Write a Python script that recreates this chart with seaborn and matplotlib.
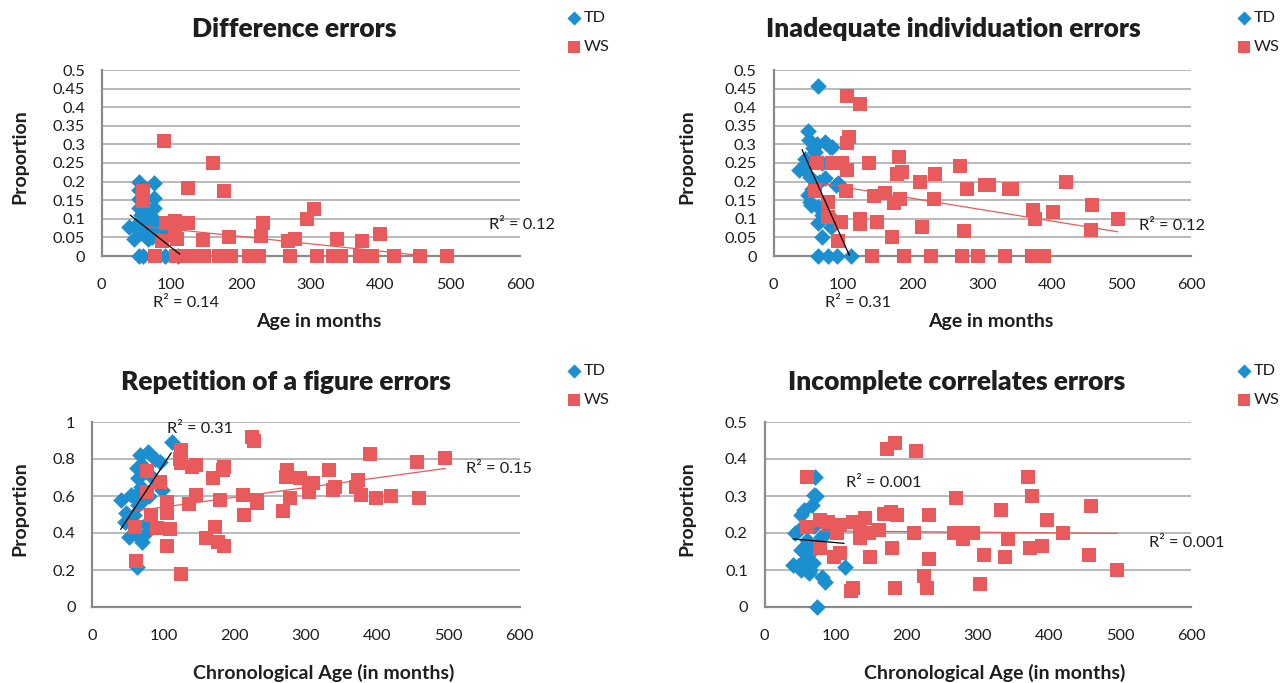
import matplotlib
matplotlib.use("Agg")
import matplotlib.pyplot as plt
import seaborn as sns

# ---------------- data ----------------
x_ticks = [0, 100, 200, 300, 400, 500, 600]
y_ticks_half = [0, 0.05, 0.1, 0.15, 0.2, 0.25, 0.3, 0.35, 0.4, 0.45, 0.5]
y_labels_half = ["0", "0.05", "0.1", "0.15", "0.2", "0.25", "0.3", "0.35", "0.4", "0.45", "0.5"]
y_ticks_one = [0, 0.2, 0.4, 0.6, 0.8, 1.0]
y_labels_one = ["0", "0.2", "0.4", "0.6", "0.8", "1"]
y_ticks_tenth = [0, 0.1, 0.2, 0.3, 0.4, 0.5]
y_labels_tenth = ["0", "0.1", "0.2", "0.3", "0.4", "0.5"]

titles = ["Difference errors", "Inadequate individuation errors",
          "Repetition of a figure errors", "Incomplete correlates errors"]
x_labels = ["Age in months", "Age in months",
            "Chronological Age (in months)", "Chronological Age (in months)"]
series_names = ["TD", "WS"]

# Panel 1: Difference errors
td1_age = [53, 53, 53, 53, 75, 75, 75, 75, 65, 60, 70, 58, 68, 40, 48, 62, 90, 46, 60, 66, 72, 53, 60, 91, 80, 57, 110]
td1_prop = [0.20, 0.178, 0.154, 0.13, 0.195, 0.157, 0.13, 0.10, 0.106, 0.115, 0.12, 0.095, 0.09, 0.078, 0.08, 0.07, 0.07, 0.045, 0.06, 0.045, 0.05, 0, 0, 0, 0.08, 0.11, 0]
ws1_age = [90, 160, 124, 176, 60, 60, 304, 294, 231, 229, 399, 183, 146, 268, 278, 338, 373, 105, 124, 93, 105, 108, 86,
           77, 106, 124, 136, 147, 168, 186, 211, 225, 270, 309, 332, 343, 370, 388, 419, 457, 496]
ws1_prop = [0.31, 0.25, 0.184, 0.176, 0.175, 0.147, 0.126, 0.10, 0.09, 0.055, 0.06, 0.052, 0.043, 0.04, 0.047, 0.047, 0.04, 0.094, 0.088, 0.088, 0.056, 0.045, 0.04,
            0, 0, 0, 0, 0, 0, 0, 0, 0, 0, 0, 0, 0, 0, 0, 0, 0, 0]
td1_trend_x = [41, 112]
td1_trend_y = [0.11, 0.005]
ws1_trend_x = [60, 496]
ws1_trend_y = [0.08, -0.006]
r2_1 = ["R² = 0.14", "R² = 0.12"]

# Panel 2: Inadequate individuation errors
td2_age = [64, 50, 51, 74, 81, 57, 84, 43, 36, 52, 74, 92, 90, 50, 52, 54, 64, 64, 83, 69, 64, 79, 91, 112,
           60, 70, 65, 55, 75, 85, 70, 62, 45]
td2_prop = [0.457, 0.336, 0.312, 0.307, 0.294, 0.289, 0.294, 0.236, 0.232, 0.213, 0.209, 0.195, 0.19, 0.164, 0.146, 0.137, 0.133, 0.088, 0.079, 0.052, 0, 0, 0, 0,
            0.28, 0.25, 0.2, 0.18, 0.14, 0.1, 0.11, 0.3, 0.26]
ws2_age = [106, 125, 109, 106, 62, 84, 99, 106, 137, 180, 178, 185, 211, 232, 268, 278, 304, 309, 339, 343, 420,
           59, 104, 144, 160, 173, 182, 231, 78, 78, 97, 125, 125, 149, 213, 170, 274, 92, 373, 376, 402, 458, 457, 495,
           141, 187, 226, 271, 294, 332, 372, 389]
ws2_prop = [0.43, 0.408, 0.32, 0.304, 0.25, 0.25, 0.25, 0.23, 0.25, 0.265, 0.22, 0.226, 0.2, 0.22, 0.242, 0.18, 0.19, 0.19, 0.18, 0.18, 0.2,
            0.175, 0.175, 0.16, 0.17, 0.143, 0.152, 0.152, 0.145, 0.105, 0.092, 0.1, 0.087, 0.092, 0.078, 0.051, 0.067, 0.04, 0.125, 0.1, 0.118, 0.138, 0.071, 0.1,
            0, 0, 0, 0, 0, 0, 0, 0]
td2_trend_x = [41, 109]
td2_trend_y = [0.286, 0.002]
ws2_trend_x = [62, 495]
ws2_trend_y = [0.197, 0.065]
r2_2 = ["R² = 0.31", "R² = 0.12"]

# Panel 3: Repetition of a figure errors
td3_age = [112, 67, 79, 88, 95, 63, 65, 98, 40, 54, 48, 54, 51, 70, 63, 60, 65, 72, 75, 58, 68, 72, 55, 80, 60, 46, 75, 85]
td3_prop = [0.894, 0.82, 0.84, 0.80, 0.785, 0.75, 0.70, 0.63, 0.578, 0.605, 0.506, 0.454, 0.38, 0.353, 0.218, 0.6, 0.55, 0.58, 0.45, 0.5, 0.65, 0.76, 0.47, 0.6, 0.4, 0.46, 0.4, 0.7]
ws3_age = [225, 227, 125, 123, 125, 146, 140, 77, 185, 183, 169, 95, 77, 274, 272, 292, 310, 305, 332, 341, 338, 373, 370, 378, 390, 399, 420, 456, 459, 496,
           212, 213, 180, 146, 136, 232, 231, 268, 278, 105, 105, 83, 91, 109, 60, 105, 160, 173, 177, 185, 61, 125]
ws3_prop = [0.92, 0.895, 0.851, 0.80, 0.78, 0.77, 0.757, 0.734, 0.757, 0.74, 0.70, 0.677, 0.623, 0.74, 0.704, 0.70, 0.668, 0.623, 0.74, 0.65, 0.634, 0.686, 0.65, 0.605, 0.829, 0.587, 0.6, 0.785, 0.587, 0.803,
            0.605, 0.497, 0.578, 0.605, 0.557, 0.56, 0.578, 0.52, 0.587, 0.57, 0.506, 0.497, 0.425, 0.42, 0.434, 0.33, 0.372, 0.431, 0.354, 0.33, 0.25, 0.178]
td3_trend_x = [40, 111]
td3_trend_y = [0.42, 0.833]
ws3_trend_x = [60, 496]
ws3_trend_y = [0.519, 0.749]
r2_3 = ["R² = 0.31", "R² = 0.15"]

# Panel 4: Incomplete correlates errors
td4_age = [71, 69, 73, 67, 55, 52, 48, 55, 52, 40, 57, 64, 81, 85, 113, 74, 43, 86, 52, 63, 60, 65, 70, 75, 80, 58, 68, 47]
td4_prop = [0.352, 0.303, 0.30, 0.275, 0.262, 0.25, 0.208, 0.163, 0.154, 0.113, 0.127, 0.1, 0.082, 0.068, 0.109, 0, 0.2, 0.2, 0.1, 0.092, 0.18, 0.15, 0.22, 0.17, 0.19, 0.13, 0.12, 0.11]
ws4_age = [172, 184, 213, 60, 371, 270, 376, 333, 459, 168, 178, 187, 231, 398, 141, 135, 124, 106, 102, 78, 89, 60,
           161, 147, 211, 266, 273, 293, 279, 343, 420, 135, 78, 98, 106, 148, 180, 232, 309, 338, 374, 390, 457, 496,
           225, 228, 303, 124, 122, 183]
ws4_prop = [0.428, 0.443, 0.422, 0.352, 0.352, 0.294, 0.30, 0.262, 0.273, 0.251, 0.258, 0.249, 0.249, 0.235, 0.24, 0.217, 0.229, 0.222, 0.199, 0.235, 0.231, 0.215,
            0.208, 0.199, 0.199, 0.199, 0.199, 0.199, 0.183, 0.183, 0.199, 0.186, 0.159, 0.136, 0.145, 0.136, 0.159, 0.129, 0.141, 0.136, 0.159, 0.165, 0.141, 0.099,
            0.083, 0.051, 0.062, 0.051, 0.042, 0.051]
td4_trend_x = [40, 112]
td4_trend_y = [0.184, 0.172]
ws4_trend_x = [60, 496]
ws4_trend_y = [0.206, 0.199]
r2_4 = ["R² = 0.001", "R² = 0.001"]

# ---------------- styling ----------------
sns.set_style("white")
plt.rcParams["font.family"] = ["Lato", "DejaVu Sans"]
BLUE = "#1B8FD0"
RED = "#E85A5C"
TEXT = "#1E1E1E"
GRID = "#A6A6A6"
SPINE = "#8A8A8A"

W, H = 1281, 683
fig = plt.figure(figsize=(W / 100, H / 100), dpi=100)


def rect(l, r, t, b):
    return [l / W, 1 - b / H, (r - l) / W, (b - t) / H]


panels = [
    dict(rect=rect(101.6, 520, 70, 256), td=(td1_age, td1_prop), ws=(ws1_age, ws1_prop),
         tt=(td1_trend_x, td1_trend_y), wt=(ws1_trend_x, ws1_trend_y),
         yt=y_ticks_half, yl=y_labels_half, ymax=0.5, r2=r2_1,
         r2pos=[(0.2017, -0.253), (1.005, 0.167)], title_pos=(0.46, 1.22),
         xl_pos=(0.52, -0.35), yl_pos=(-0.195, 0.535), leg=(569, 11)),
    dict(rect=rect(773.5, 1191, 70, 256), td=(td2_age, td2_prop), ws=(ws2_age, ws2_prop),
         tt=(td2_trend_x, td2_trend_y), wt=(ws2_trend_x, ws2_trend_y),
         yt=y_ticks_half, yl=y_labels_half, ymax=0.5, r2=r2_2,
         r2pos=[(0.2024, -0.253), (0.955, 0.161)], title_pos=(0.432, 1.22),
         xl_pos=(0.521, -0.35), yl_pos=(-0.208, 0.535), leg=(1239, 11)),
    dict(rect=rect(92.2, 519.5, 422, 607), td=(td3_age, td3_prop), ws=(ws3_age, ws3_prop),
         tt=(td3_trend_x, td3_trend_y), wt=(ws3_trend_x, ws3_trend_y),
         yt=y_ticks_one, yl=y_labels_one, ymax=1.0, r2=r2_3,
         r2pos=[(0.252, 0.962), (0.951, 0.746)], title_pos=(0.4535, 1.216),
         xl_pos=(0.5425, -0.357), yl_pos=(-0.169, 0.532), leg=(569, 364)),
    dict(rect=rect(764.5, 1191, 422, 607), td=(td4_age, td4_prop), ws=(ws4_age, ws4_prop),
         tt=(td4_trend_x, td4_trend_y), wt=(ws4_trend_x, ws4_trend_y),
         yt=y_ticks_tenth, yl=y_labels_tenth, ymax=0.5, r2=r2_4,
         r2pos=[(0.279, 0.67), (0.99, 0.346)], title_pos=(0.451, 1.216),
         xl_pos=(0.54, -0.357), yl_pos=(-0.182, 0.532), leg=(1239, 364)),
]

for i, p in enumerate(panels):
    ax = fig.add_axes(p["rect"])
    sns.scatterplot(x=p["td"][0], y=p["td"][1], marker="D", s=72, color=BLUE, linewidth=0,
                    ax=ax, label=series_names[0], clip_on=False, zorder=3)
    sns.scatterplot(x=p["ws"][0], y=p["ws"][1], marker="s", s=110, color=RED, linewidth=0,
                    ax=ax, label=series_names[1], clip_on=False, zorder=4)
    sns.lineplot(x=p["tt"][0], y=p["tt"][1], color="black", lw=0.9, ax=ax, zorder=6, legend=False)
    sns.lineplot(x=p["wt"][0], y=p["wt"][1], color=RED, lw=0.9, ax=ax, zorder=5, legend=False)

    ax.set_xlim(0, 600)
    ax.set_ylim(0, p["ymax"])
    ax.set_xticks(x_ticks)
    ax.set_xticklabels([str(v) for v in x_ticks])
    ax.set_yticks(p["yt"])
    ax.set_yticklabels(p["yl"])
    ax.tick_params(axis="both", length=0, labelsize=11.8, colors=TEXT)
    ax.tick_params(axis="x", pad=16)
    ax.tick_params(axis="y", pad=12)
    ax.grid(axis="y", color=GRID, lw=1.1)
    ax.grid(axis="x", visible=False)
    ax.set_axisbelow(True)
    for s in ["top", "right"]:
        ax.spines[s].set_visible(False)
    for s in ["left", "bottom"]:
        ax.spines[s].set_color(SPINE)
        ax.spines[s].set_linewidth(1.6)
        ax.spines[s].set_zorder(2)

    ax.set_title(titles[i], x=p["title_pos"][0], y=p["title_pos"][1], va="center", pad=0,
                 fontsize=19, fontweight="heavy", color=TEXT)
    ax.set_xlabel(x_labels[i], fontsize=14, fontweight="bold", color=TEXT, va="center")
    ax.xaxis.set_label_coords(*p["xl_pos"])
    ax.set_ylabel("Proportion", fontsize=14, fontweight="bold", color=TEXT, va="center")
    ax.yaxis.set_label_coords(*p["yl_pos"])

    for txt, pos in zip(p["r2"], p["r2pos"]):
        ax.text(pos[0], pos[1], txt, transform=ax.transAxes, ha="center", va="center",
                fontsize=11.8, color=TEXT, zorder=7)

    lx, ly = p["leg"]
    ax.legend(loc="upper left", bbox_to_anchor=(lx / W, 1 - ly / H), bbox_transform=fig.transFigure,
              frameon=False, fontsize=11.8, labelspacing=0.85, handlelength=0.6, handletextpad=0.3,
              borderpad=0, borderaxespad=0, markerscale=0.85, labelcolor=TEXT)

fig.savefig("out.png", dpi=100)
